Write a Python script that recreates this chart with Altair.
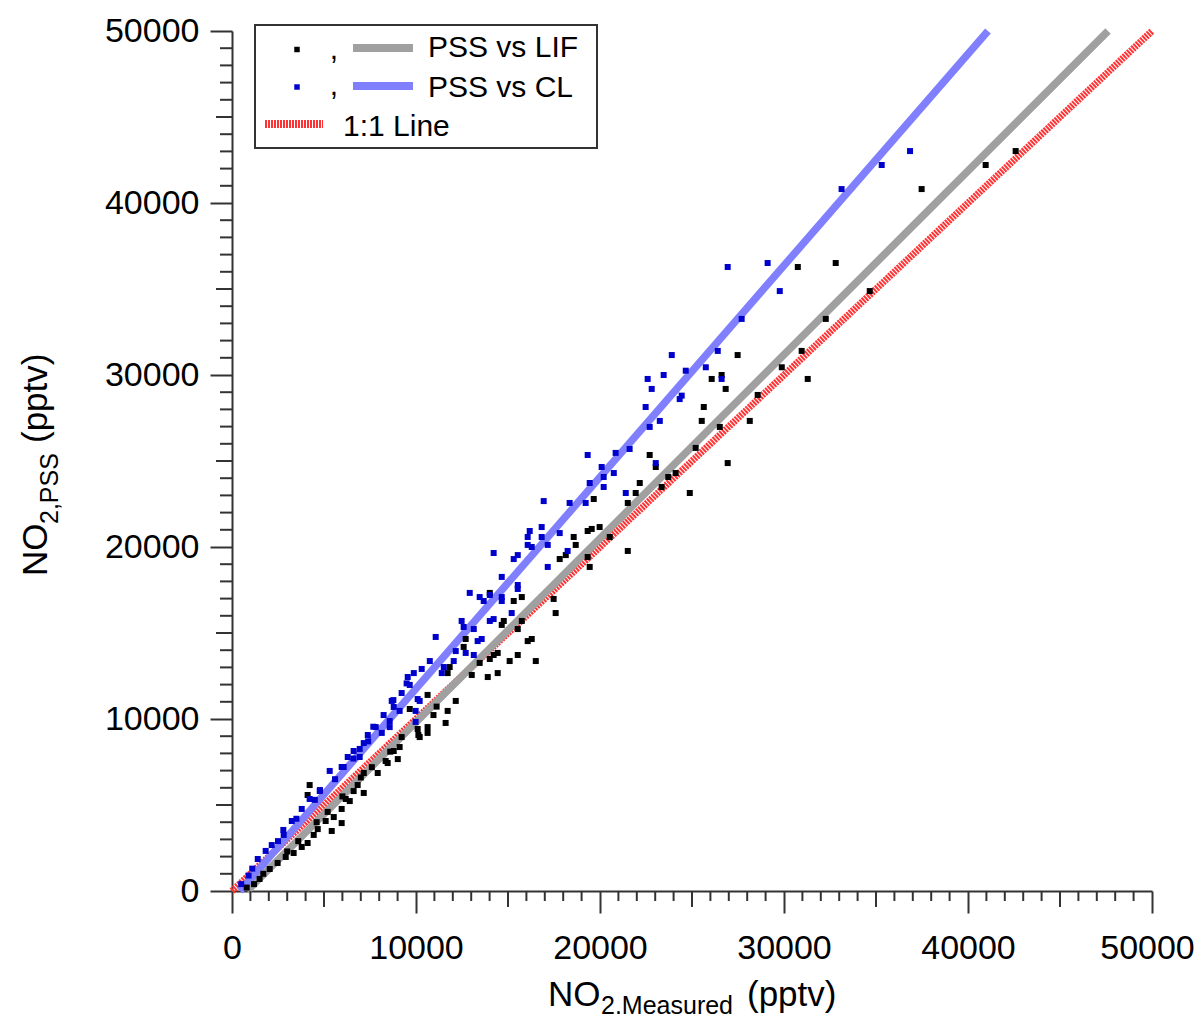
import altair as alt
import pandas as pd

FONT = "Liberation Sans"

# ---- data (pptv) ----
lif_x = [42590, 40960, 37480, 30750, 32810, 34660, 32270, 27480, 30960, 29880, 26070, 26610, 31290, 26830,
         28570, 25640, 25530, 28140, 26510, 25200,
         22700, 23030, 26940, 23710, 24110, 22160, 23350, 21940, 24880, 19660,
         21510, 19980, 19550, 19330, 18570, 18680, 18140, 17810, 21510, 19440, 20530, 19330,
         14010, 15310, 15750, 17480, 17590, 14660, 14770, 15750, 15530, 16070, 16290, 12700, 12590, 14440,
         14220, 15530, 15090, 16510, 13460, 14010, 11830, 11720, 14440, 13900, 13030,
         10630, 12160, 9660, 10950, 11720, 11610, 10630, 10090, 10630, 10200, 9220, 9110, 8790, 8460, 9010,
         7920, 7160, 10130, 11120,
         4220, 4110, 5420, 5960, 4110, 8350, 7160, 6400, 5960, 5530, 5090, 4660, 4440, 3790, 3350, 2920,
         2480, 2050, 6830, 6610, 6180, 1500, 1200, 800, 1700,
         3000, 3600, 4600, 5200, 6000, 7000, 7600, 8600]
lif_y = [43020, 42210, 40810, 36280, 36510, 34880, 33260, 31160, 31400, 30450, 29770, 30000, 29770, 29190,
         28840, 28140, 27330, 27330, 26980, 25760,
         25350, 24650, 24880, 24070, 24300, 23720, 23490, 23140, 23140, 22790,
         22560, 21160, 21050, 20930, 20580, 20120, 19530, 19300, 19770, 18840, 20580, 19420,
         17330, 16860, 17090, 16980, 16160, 15470, 15700, 15700, 15230, 14530, 14650, 14650, 14190, 13840,
         13720, 13720, 13370, 13370, 13260, 13490, 13020, 12670, 12670, 12440, 12560,
         11400, 11050, 10580, 10230, 10470, 9770, 9530, 9420, 9190, 8950, 8950, 8370, 8140, 7440, 7670,
         6860, 6860, 9070, 10720,
         6160, 5580, 3490, 3950, 2790, 7560, 5700, 5230, 4770, 4300, 4070, 3600, 3260, 2560, 2210, 1980,
         1630, 1280, 6160, 5810, 5350, 700, 400, 200, 1000,
         2300, 2900, 4000, 4600, 5500, 6600, 7200, 8100]

cl_x = [36850, 35310, 33130, 26940, 29110, 29770, 27700, 26400, 24660, 25750, 26610, 24440,
        23900, 23460, 22590, 22810, 24330, 22480, 23250, 22700, 19330, 20850, 21610, 20090, 20200, 20750,
        23030, 19440, 20200, 21400,
        16940, 18350, 19220, 16180, 16830, 16070, 16830, 17810, 16070, 16290, 17160, 15530, 15310, 18240,
        17160, 14660,
        14220, 12920, 13460, 14010, 13680, 14660, 15530, 15530, 14660, 12480, 13140, 14010, 15200, 14220,
        12590, 11070, 13570, 13350, 12160, 12700, 13140, 12050, 10750, 11510, 10310, 11400,
        9880, 9550, 9220, 9660, 10090, 10200, 8680, 8790, 8240, 9110, 9980, 8570, 7810, 8570, 8140, 7380,
        9980, 6610, 7160, 6070, 6940,
        5310, 5960, 4220, 3250, 2810, 2160, 1400, 4770, 3790, 1830, 6940, 6290, 9490, 8770, 7680, 4780,
        2790, 900, 500, 1100,
        2500, 3500, 4500, 5600, 6600, 7400]
cl_y = [43020, 42210, 40810, 36280, 36510, 34880, 33260, 31400, 30250, 30450, 29770, 28800,
        31160, 30000, 29770, 29190, 28600, 28140, 27330, 26980, 25350, 25470, 25700, 24650, 24070, 24300,
        24880, 23720, 23490, 23140,
        22670, 22560, 22560, 20930, 21160, 20580, 20580, 20810, 20120, 20000, 20120, 19530, 19300, 19770,
        18840, 18260,
        19650, 17330, 17090, 17210, 16860, 17090, 17790, 17560, 16860, 15700, 15230, 15700, 16160, 15810,
        15350, 14770, 14650, 14530, 13950, 13840, 13720, 13370, 13370, 13020, 12910, 12670,
        12670, 12440, 11510, 11980, 11160, 11050, 11050, 10700, 10230, 10470, 10470, 9880, 9530, 9530, 9190, 9070,
        9830, 8140, 8600, 7210, 7790,
        6980, 7210, 5350, 4070, 3260, 2670, 1860, 5810, 4770, 2330, 8260, 7790, 12070, 11100, 9550, 5870,
        3550, 900, 400, 1300,
        2900, 4200, 5300, 6500, 7700, 8700]

fit_names = ["PSS vs LIF", "PSS vs CL"]
fit_slope = [1.0685, 1.230]
fit_intercept = [-871, -535]
one_to_one = [0, 50000]
axis_max = 50000
major_ticks = [0, 10000, 20000, 30000, 40000, 50000]
mid_ticks = [5000, 15000, 25000, 35000, 45000]
minor_ticks = [v for v in range(1000, 50000, 1000) if v % 5000]
legend_labels = ["PSS vs LIF", "PSS vs CL", "1:1 Line"]
x_title_parts = ["NO", "2.Measured", "(pptv)"]
y_title_parts = ["NO", "2,PSS", "(pptv)"]

W, H = 920, 860
AX = "#333333"
GRAY = "#a0a0a0"
LBLUE = "#8080ff"
RED = "#ff3333"
DBLUE = "#0000cc"

xs = alt.Scale(domain=[0, axis_max], nice=False, zero=False)
ys = alt.Scale(domain=[0, axis_max], nice=False, zero=False)
common = dict(grid=False, domainColor=AX, domainWidth=2, tickColor=AX, tickWidth=2, tickSize=22,
              labelFont=FONT, labelFontSize=34, labelColor="black", labelFlush=False,
              labelOverlap=False, values=major_ticks, format="d", title=None)
xaxis = alt.Axis(orient="bottom", labelPadding=18,
                 labelOffset={"condition": {"test": "datum.value >= 50000", "value": -5}, "value": 0},
                 **common)
yaxis = alt.Axis(orient="left", labelPadding=11, **common)


def X(f):
    return alt.X(f, scale=xs, axis=xaxis)


def Y(f):
    return alt.Y(f, scale=ys, axis=yaxis)


# ---- lines ----
one_df = pd.DataFrame({"x": one_to_one, "y": one_to_one})
red_line = alt.Chart(one_df).mark_line(color=RED, strokeWidth=7, strokeDash=[2, 1]).encode(
    x=X("x:Q"), y=Y("y:Q"))

rows = []
for n, m, b in zip(fit_names, fit_slope, fit_intercept):
    rows.append({"series": n, "x": -b / m, "y": 0})
    rows.append({"series": n, "x": (axis_max - b) / m, "y": axis_max})
fit_df = pd.DataFrame(rows)
fit_lines = alt.Chart(fit_df).mark_line(strokeWidth=7.5).encode(
    x=X("x:Q"), y=Y("y:Q"),
    color=alt.Color("series:N", scale=alt.Scale(domain=fit_names, range=[GRAY, LBLUE]), legend=None),
    detail="series:N")

lif = alt.Chart(pd.DataFrame({"x": lif_x, "y": lif_y})).mark_square(size=36, color="black", opacity=1).encode(
    x=X("x:Q"), y=Y("y:Q"))
cl = alt.Chart(pd.DataFrame({"x": cl_x, "y": cl_y})).mark_square(size=36, color=DBLUE, opacity=1).encode(
    x=X("x:Q"), y=Y("y:Q"))


# ---- minor / mid ticks ----
def xticks(vals, ln):
    return alt.Chart(pd.DataFrame({"x": vals})).mark_rule(color=AX, strokeWidth=2).encode(
        x=X("x:Q"), y=alt.value(H), y2=alt.value(H + ln))


def yticks(vals, ln):
    return alt.Chart(pd.DataFrame({"y": vals})).mark_rule(color=AX, strokeWidth=2).encode(
        y=Y("y:Q"), x=alt.value(0), x2=alt.value(-ln))


ticks = [xticks(minor_ticks, 10), xticks(mid_ticks, 16), yticks(minor_ticks, 12), yticks(mid_ticks, 16)]


# ---- legend ----
def txt(s, x, y, size=30, angle=0, align="left"):
    kw = dict(font=FONT, fontSize=size, color="black", align=align, baseline="alphabetic")
    if angle:
        kw["angle"] = angle
    return alt.Chart(pd.DataFrame({"t": [s]})).mark_text(**kw).encode(
        text="t:N", x=alt.value(x), y=alt.value(y))


legend_box = alt.Chart(pd.DataFrame({"a": [0]})).mark_rect(fill="white", stroke=AX, strokeWidth=2).encode(
    x=alt.value(23), x2=alt.value(365), y=alt.value(-6), y2=alt.value(117))


def lsq(color, y):
    return alt.Chart(pd.DataFrame({"a": [0]})).mark_square(size=30, color=color, opacity=1).encode(
        x=alt.value(65), y=alt.value(y))


def lline(color, x1, x2, y, dash=None):
    kw = dict(color=color, strokeWidth=8)
    if dash:
        kw["strokeDash"] = dash
    return alt.Chart(pd.DataFrame({"a": [0]})).mark_rule(**kw).encode(
        x=alt.value(x1), x2=alt.value(x2), y=alt.value(y))


legend = [
    legend_box,
    lsq("black", 18.5), txt(",", 102, 28, align="center"), lline(GRAY, 121, 181, 17), txt(legend_labels[0], 196, 26),
    lsq(DBLUE, 56), txt(",", 102, 64, align="center"), lline(LBLUE, 121, 181, 55), txt(legend_labels[1], 196, 66),
    lline(RED, 33, 91, 93, dash=[2, 1]), txt(legend_labels[2], 111, 105),
]

# ---- axis titles with subscripts ----
titles = [
    txt(x_title_parts[0], 316, 975, size=35),
    txt(x_title_parts[1], 369, 983, size=25),
    txt(x_title_parts[2], 515, 975, size=35),
    txt(y_title_parts[0], -185, 545, size=35, angle=270),
    txt(y_title_parts[1], -174, 493, size=25, angle=270),
    txt(y_title_parts[2], -185, 412, size=35, angle=270),
]

chart = alt.layer(red_line, fit_lines, lif, cl, *ticks, *legend, *titles).properties(
    width=W, height=H,
    padding={"left": 224, "top": 23, "right": 43, "bottom": 127},
    autosize=alt.AutoSizeParams(type="none"),
    background="white",
).configure_view(stroke=None)

chart.save("out.html", embed_options={"renderer": "svg", "actions": False})
